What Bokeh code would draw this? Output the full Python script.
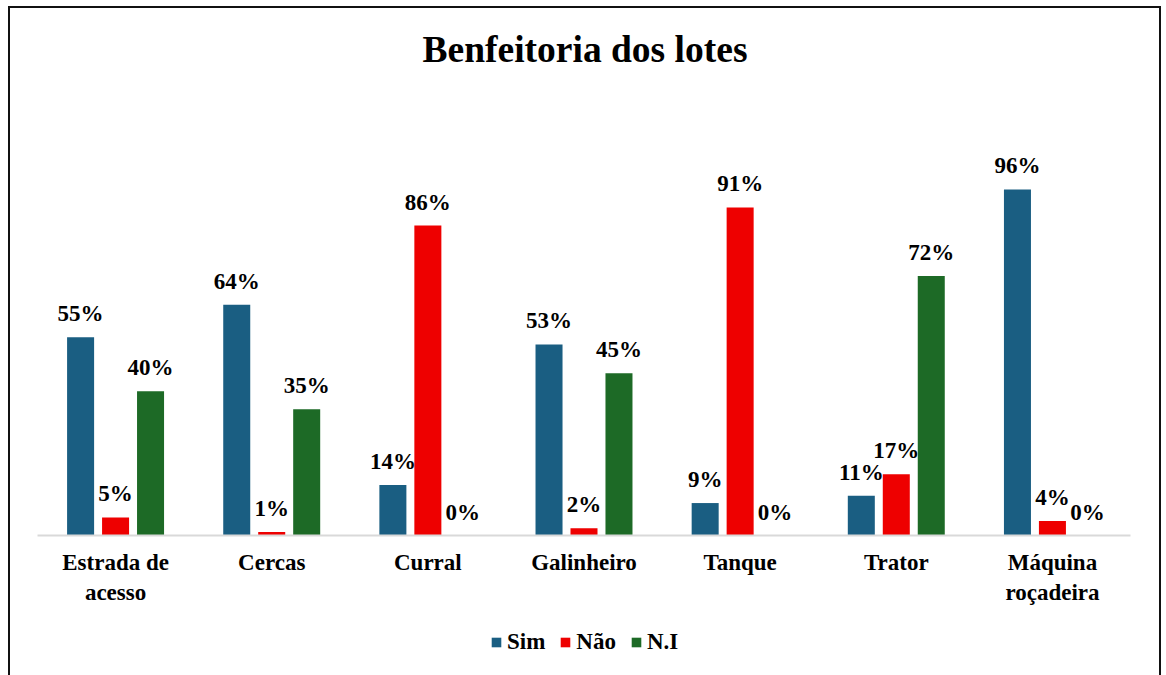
from bokeh.plotting import figure
from bokeh.models import (ColumnDataSource, Range1d, LabelSet, Legend, LegendItem, Label)
from bokeh.layouts import column
from bokeh.transform import dodge
from bokeh.embed import file_html
from bokeh.resources import INLINE

title = "Benfeitoria dos lotes"
categories = ["Estrada de\nacesso", "Cercas", "Curral", "Galinheiro", "Tanque", "Trator", "Máquina\nroçadeira"]
series = ["Sim", "Não", "N.I"]
sim = [55, 64, 14, 53, 9, 11, 96]
nao = [5, 1, 86, 2, 91, 17, 4]
ni = [40, 35, 0, 45, 0, 72, 0]
colors = ["#1A5E82", "#EE0000", "#1D6A26"]

FONT = "Liberation Serif"
W = 1153
H = 607
BORDER = "2px solid #111"

p = figure(x_range=categories, y_range=Range1d(0, 146.2), width=W, height=H,
           output_backend="svg", toolbar_location=None,
           min_border_left=27, min_border_right=33, min_border_top=0, min_border_bottom=80)
p.styles = {"margin-left": "8px", "margin-top": "6px",
            "border-top": BORDER, "border-left": BORDER, "border-right": BORDER}

p.add_layout(Label(x=547.5, y=486, x_units="screen", y_units="screen", text=title,
                   text_align="center", text_baseline="alphabetic",
                   text_font=FONT, text_font_style="bold", text_font_size="37.5px",
                   text_color="black"))

src = ColumnDataSource(dict(cat=categories, Sim=sim, Nao=nao, NI=ni,
                            Sim_l=[f"{v}%" for v in sim],
                            Nao_l=[f"{v}%" for v in nao],
                            NI_l=[f"{v}%" for v in ni]))

offsets = [-0.224, 0.0, 0.224]
fields = ["Sim", "Nao", "NI"]
for f, off, c in zip(fields, offsets, colors):
    p.vbar(x=dodge("cat", off, range=p.x_range), top=f, width=0.173, source=src,
           fill_color=c, line_color=None)
    lbl = LabelSet(x=dodge("cat", off, range=p.x_range), y=f, text=f + "_l", source=src,
                   text_align="center", text_baseline="alphabetic", y_offset=16,
                   text_font=FONT, text_font_style="bold", text_font_size="23px",
                   text_color="black")
    p.add_layout(lbl)

p.yaxis.visible = False
p.grid.visible = False
p.outline_line_color = None
p.xaxis.axis_line_color = "#D9D9D9"
p.xaxis.axis_line_width = 2
p.xaxis.major_tick_line_color = None
p.xaxis.minor_tick_line_color = None
p.xaxis.major_label_standoff = 8
p.xaxis.major_label_text_font = FONT
p.xaxis.major_label_text_font_style = "bold"
p.xaxis.major_label_text_font_size = "23px"
p.xaxis.major_label_text_color = "black"
p.x_range.range_padding = 0

# legend strip below the chart (zero-height proxy bars only carry the legend swatches)
p2 = figure(width=W, height=62, output_backend="svg", toolbar_location=None,
            x_range=Range1d(0, 1), y_range=Range1d(0, 1),
            min_border_left=0, min_border_right=0, min_border_top=0, min_border_bottom=0)
p2.styles = {"margin-left": "8px", "border-left": BORDER, "border-right": BORDER}
p2.axis.visible = False
p2.grid.visible = False
p2.outline_line_color = None
leg_renderers = [p2.vbar(x=[0.5], bottom=[0], top=[0], width=0.01, fill_color=c, line_color=None)
                 for c in colors]
legend = Legend(items=[LegendItem(label=s, renderers=[r]) for s, r in zip(series, leg_renderers)],
                orientation="horizontal", location=(453, 20),
                glyph_width=12, glyph_height=12, label_standoff=5, spacing=14,
                label_text_font=FONT, label_text_font_style="bold", label_text_font_size="23px",
                label_text_color="black",
                border_line_color=None, background_fill_alpha=0, padding=4, margin=0)
p2.add_layout(legend)

layout = column(p, p2, spacing=0)
open("out.html", "w").write(file_html(layout, INLINE))
